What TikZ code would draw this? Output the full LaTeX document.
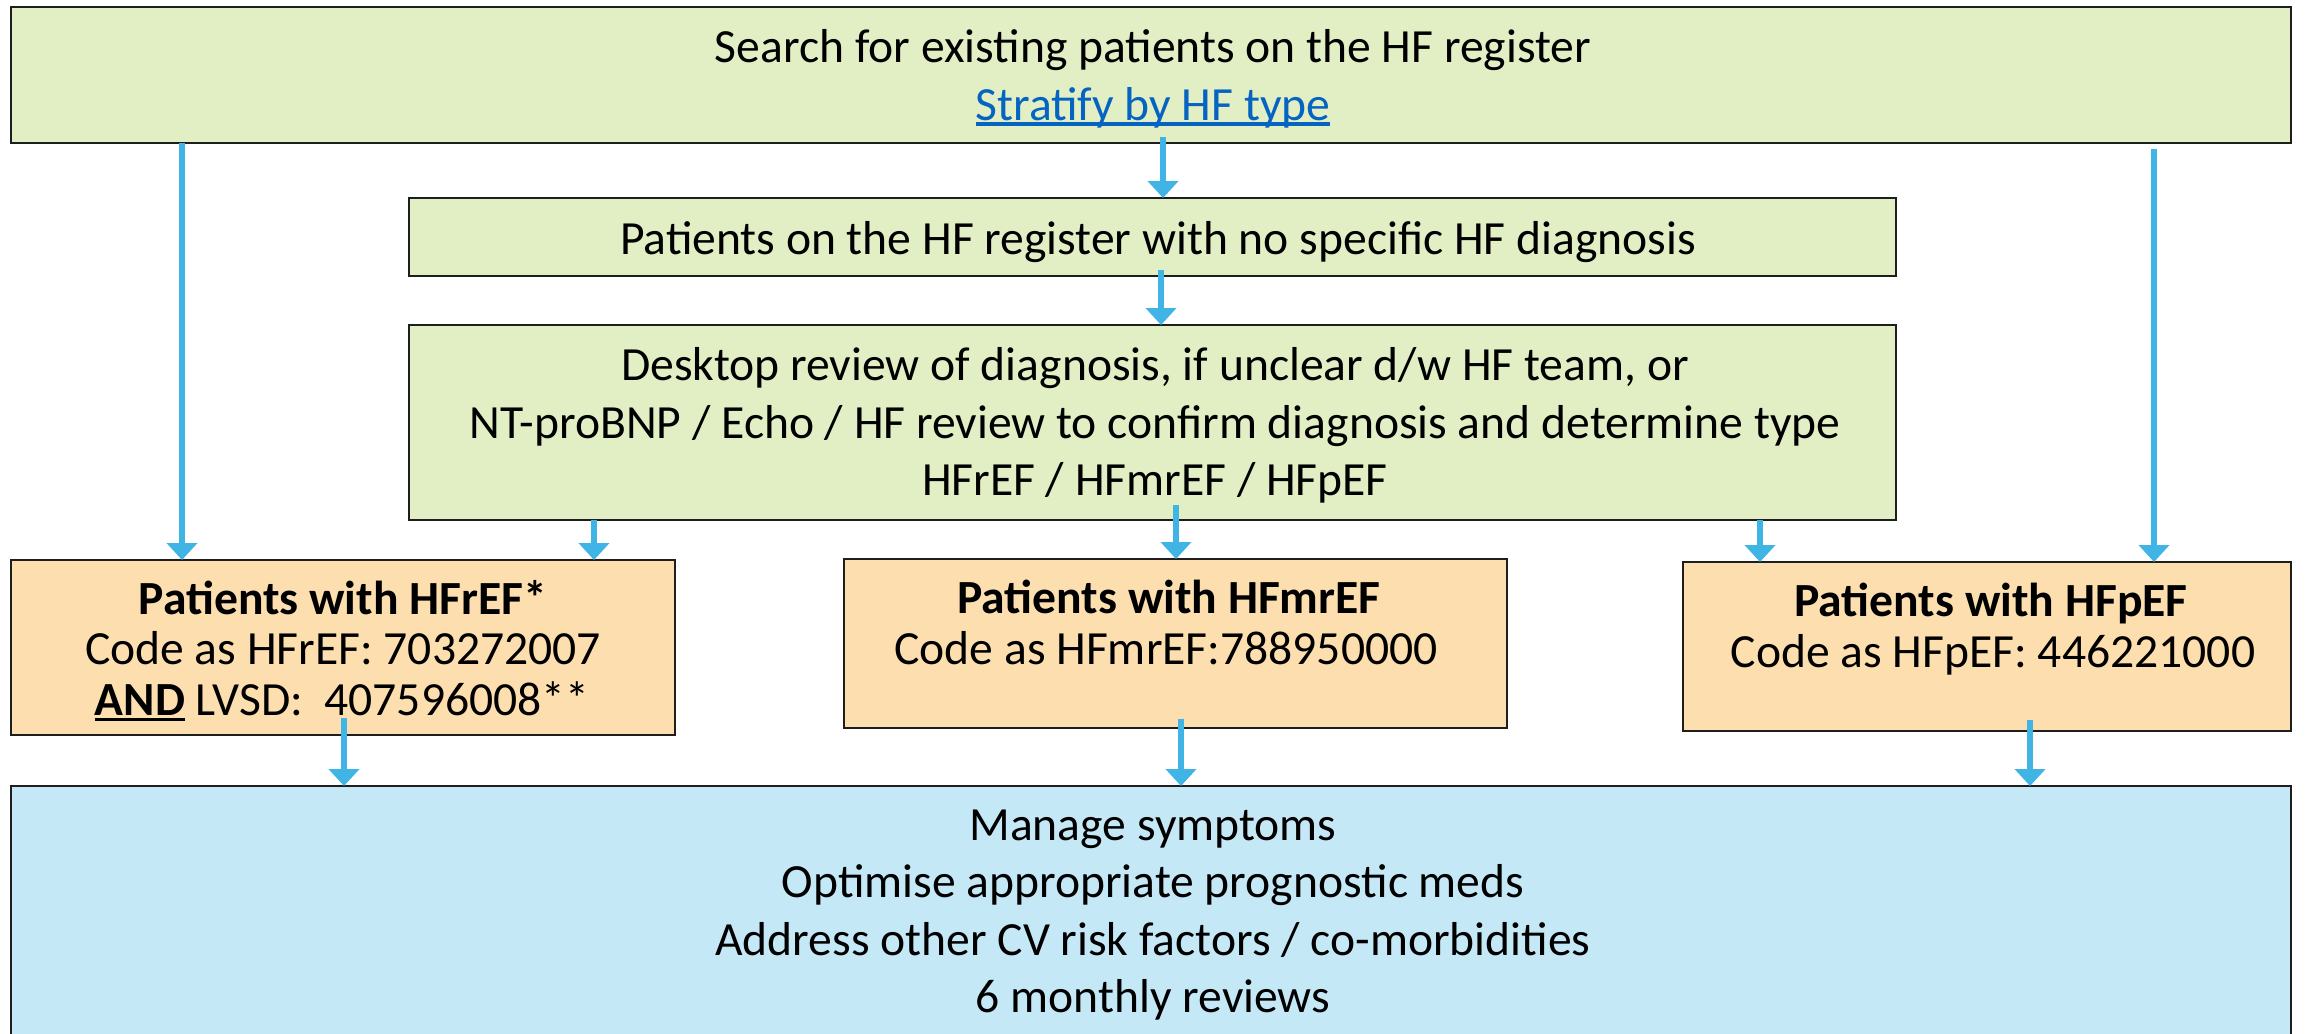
\documentclass[tikz,border=0pt]{standalone}
\usepackage{fontspec}
\setmainfont{Carlito}
\usetikzlibrary{arrows.meta,calc}
\definecolor{gfill}{HTML}{E2EFC5}
\definecolor{ofill}{HTML}{FDDFAF}
\definecolor{bfill}{HTML}{C5E8F7}
\definecolor{arrowc}{HTML}{41B4E6}
\definecolor{linkc}{HTML}{0563C1}
\definecolor{edge}{HTML}{1E1E1E}
\newcommand{\myul}[2]{\setbox0\hbox{#2}\rlap{\rule[-3.2pt]{\wd0}{#1}}\box0\relax}
\begin{document}
\begin{tikzpicture}[x=0.5pt,y=-0.5pt,
  box/.style={draw=edge,line width=1pt,inner sep=0pt,outer sep=0pt},
  gbox/.style={box,fill=gfill},
  obox/.style={box,fill=ofill},
  bbox/.style={box,fill=bfill},
  txt/.style={anchor=base,inner sep=0pt,font=\fontsize{23.8}{29}\selectfont},
  btxt/.style={txt,font=\fontsize{23.8}{29}\selectfont\bfseries},
  arr/.style={draw=arrowc,line width=3pt,-{Triangle[width=15pt,length=8.5pt]}}]
\clip (0,0) rectangle (2305,1033);
\useasboundingbox (0,0) rectangle (2305,1033);
% boxes
\node[gbox,minimum width=1140pt,minimum height=68pt] (top) at (1151,75) {};
\node[gbox,minimum width=743.5pt,minimum height=39pt] (b2) at (1152.5,237) {};
\node[gbox,minimum width=743.5pt,minimum height=97.5pt] (b3) at (1152.5,422.5) {};
\node[obox,minimum width=332pt,minimum height=87.5pt] (o1) at (343,647.5) {};
\node[obox,minimum width=331.5pt,minimum height=84.5pt] (o2) at (1175.5,643.5) {};
\node[obox,minimum width=304pt,minimum height=84.5pt] (o3) at (1987,646.5) {};
\node[bbox,minimum width=1140pt,minimum height=140pt] (blue) at (1151,926) {};
% texts
\node[txt] (t1) at (1153,62) {Search for existing patients on the HF register};
\node[txt] (t2) at (1153,120) {\textcolor{linkc}{\myul{2pt}{Stratify by HF type}}};
\node[txt] (t3) at (1158,254) {Patients on the HF register with no specific HF diagnosis};
\node[txt] (t4) at (1155,380) {Desktop review of diagnosis, if unclear d/w HF team, or};
\node[txt] (t5) at (1155,438) {NT-proBNP / Echo / HF review to confirm diagnosis and determine type};
\node[txt] (t6) at (1155,495) {HFrEF / HFmrEF / HFpEF};
\node[btxt] (t7) at (343,614) {Patients with HFrEF*};
\node[txt] (t8) at (343,664) {Code as HFrEF: 703272007};
\node[txt] (t9) at (342,715) {\myul{1.5pt}{\textbf{AND}} LVSD:\ \ 407596008**};
\node[btxt] (t10) at (1169,613) {Patients with HFmrEF};
\node[txt] (t11) at (1166,664) {Code as HFmrEF:788950000};
\node[btxt] (t12) at (1991,616) {Patients with HFpEF};
\node[txt] (t13) at (1993,667) {Code as HFpEF: 446221000};
\node[txt] (t14) at (1153,840) {Manage symptoms};
\node[txt] (t15) at (1153,897) {Optimise appropriate prognostic meds};
\node[txt] (t16) at (1153,955) {Address other CV risk factors / co-morbidities};
\node[txt] (t17) at (1153,1012) {6 monthly reviews};
% arrow x positions
\coordinate (xa) at (1163,0);
\coordinate (xb) at (1161,0);
\coordinate (xc) at (182,0);
\coordinate (xd) at (2154,0);
\coordinate (xe) at (594,0);
\coordinate (xf) at (1176,0);
\coordinate (xg) at (1760,0);
\coordinate (xh) at (344,0);
\coordinate (xi) at (1181,0);
\coordinate (xj) at (2030,0);
% arrows
\draw[arr] ($(top.south -| xa)+(0,-6)$) -- (xa |- b2.north);
\draw[arr] ($(b2.south -| xb)+(0,-6)$) -- (xb |- b3.north);
\draw[arr] (top.south -| xc) -- (xc |- o1.north);
\draw[arr] ($(top.south -| xd)+(0,6)$) -- (xd |- o3.north);
\draw[arr] (b3.south -| xe) -- (xe |- o1.north);
\draw[arr] ($(b3.south -| xf)+(0,-15)$) -- (xf |- o2.north);
\draw[arr] (b3.south -| xg) -- (xg |- o3.north);
\draw[arr] ($(o1.south -| xh)+(0,-17)$) -- (xh |- blue.north);
\draw[arr] ($(o2.south -| xi)+(0,-9)$) -- (xi |- blue.north);
\draw[arr] ($(o3.south -| xj)+(0,-11)$) -- (xj |- blue.north);
\end{tikzpicture}
\end{document}
